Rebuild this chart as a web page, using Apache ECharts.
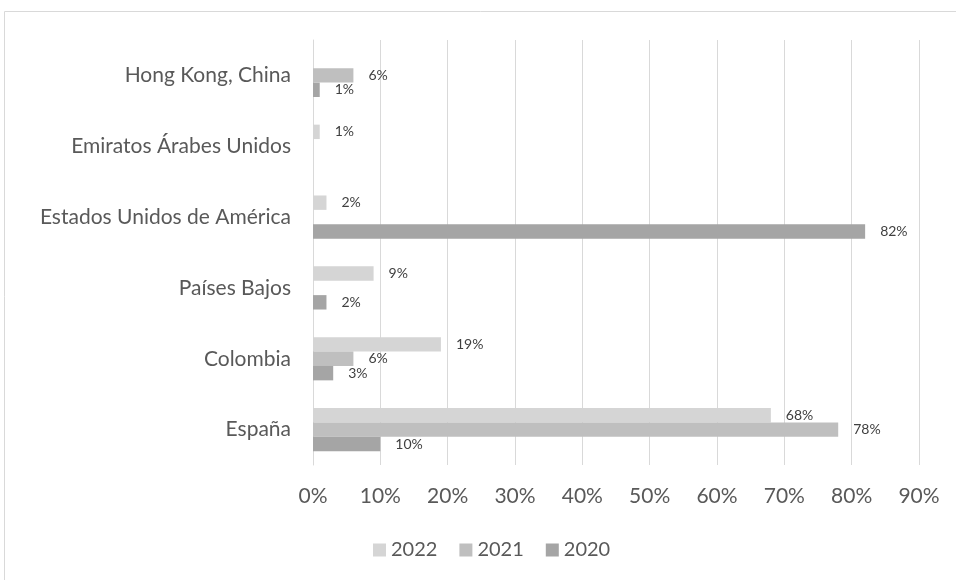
<!DOCTYPE html>
<html>
<head>
<meta charset="utf-8">
<script src="https://cdn.jsdelivr.net/npm/echarts@6/dist/echarts.min.js"></script>
<style>html,body{margin:0;padding:0;background:#fff}#c{width:956px;height:580px}</style>
</head>
<body>
<div id="c"></div>
<script>
const categories = ['España', 'Colombia', 'Países Bajos', 'Estados Unidos de América', 'Emiratos Árabes Unidos', 'Hong Kong, China'];
const values2022 = [68, 19, 9, 2, 1, null];
const values2021 = [78, 6, null, null, null, 6];
const values2020 = [10, 3, 2, 82, null, 1];
const xTicks = { min: 0, max: 90, interval: 10 };

const chart = echarts.init(document.getElementById('c'));
const FONT = 'Lato';
function mk(name, data, color) {
  return {
    name: name, type: 'bar', data: data,
    barGap: '0%', barCategoryGap: '39%',
    itemStyle: { color: color },
    label: {
      show: true, position: 'right', distance: 15,
      fontFamily: FONT, fontSize: 14, color: '#404040',
      formatter: p => (p.value == null ? '' : p.value + '%')
    }
  };
}
chart.setOption({
  animation: false,
  textStyle: { fontFamily: FONT },
  graphic: [{
    type: 'rect', shape: { x: 4.5, y: 11.5, width: 1000, height: 1000 },
    style: { fill: 'none', stroke: '#d9d9d9', lineWidth: 1 }, silent: true
  }],
  grid: { left: 313, right: 37, top: 40, bottom: 115, containLabel: false },
  legend: {
    data: ['2022', '2021', '2020'], top: 535, left: 368,
    icon: 'rect', itemWidth: 13, itemHeight: 13, itemGap: 22,
    textStyle: { fontFamily: FONT, fontSize: 20, color: '#595959' }
  },
  xAxis: {
    type: 'value', min: xTicks.min, max: xTicks.max, interval: xTicks.interval,
    axisLine: { show: false }, axisTick: { show: false },
    axisLabel: { formatter: '{value}%', fontFamily: FONT, fontSize: 21, color: '#595959', margin: 21 },
    splitLine: { lineStyle: { color: '#d9d9d9', width: 1 } }
  },
  yAxis: {
    type: 'category', data: categories,
    axisLine: { show: true, lineStyle: { color: '#d9d9d9' } },
    axisTick: { show: false },
    axisLabel: { fontFamily: FONT, fontSize: 21, color: '#595959', margin: 22 }
  },
  series: [
    mk('2022', values2022, '#d5d5d5'),
    mk('2021', values2021, '#bfbfbf'),
    mk('2020', values2020, '#a5a5a5')
  ]
});
</script>
</body>
</html>
